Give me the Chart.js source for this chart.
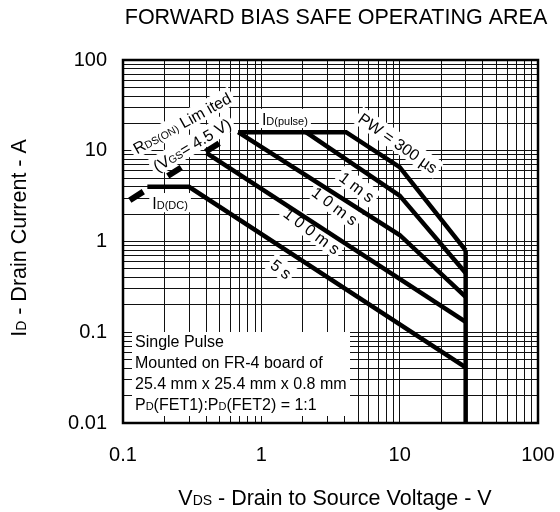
<!DOCTYPE html>
<html><head><meta charset="utf-8">
<script src="https://cdn.jsdelivr.net/npm/chart.js@4/dist/chart.umd.min.js"></script>
<style>html,body{margin:0;padding:0;background:#fff}</style>
</head><body>
<canvas id="c" width="560" height="512"></canvas>
<script>
// ---- data ----
const xGridValues = [0.1,0.2,0.3,0.4,0.5,0.6,0.7,0.8,0.9,1,2,3,4,5,6,7,8,9,10,20,30,40,50,60,70,80,90,100];
const yGridValues = [0.01,0.02,0.03,0.04,0.05,0.06,0.07,0.08,0.09,0.1,0.2,0.3,0.4,0.5,0.6,0.7,0.8,0.9,1,2,3,4,5,6,7,8,9,10,20,30,40,50,60,70,80,90,100];
const xTickLabelValues = [0.1, 1, 10, 100];
const xTickLabels = ['0.1','1','10','100'];
const yTickLabelValues = [0.01, 0.1, 1, 10, 100];
const yTickLabels = ['0.01','0.1','1','10','100'];

const pw300usV = [0.68, 4.1, 10, 30];
const pw300usA = [16, 16, 6.6, 0.8];
const pw1msV = [2.1, 10, 30];
const pw1msA = [16, 3.2, 0.45];
const pw10msV = [0.68, 10, 30];
const pw10msA = [16, 1.18, 0.245];
const pw100msV = [0.4, 30];
const pw100msA = [9.5, 0.13];
const dc5sV = [0.15, 0.3, 30];
const dc5sA = [4, 4, 0.041];
const vdsLimitV = [30, 30];
const vdsLimitA = [0.8, 0.01];
const rdsLimitV = [0.112, 0.5];
const rdsLimitA = [2.85, 12.2];

const FONT = '"Liberation Sans", Arial, Helvetica, sans-serif';
const zip = (xs, ys) => xs.map((x, i) => ({x, y: ys[i]}));
const solid = (xs, ys) => ({data: zip(xs, ys), showLine: true, borderColor: '#000', borderWidth: 4.5, pointRadius: 0, borderJoinStyle: 'miter', fill: false});

// curve labels in data coordinates
const curveLabels = [
  {segs: [['PW = 300 µs', 16]], x: 9.73, y: 12.2, angle: 35},
  {segs: [['1 m s', 16]], x: 4.92, y: 3.99, angle: 37},
  {segs: [['1 0 m s', 16]], x: 3.41, y: 2.46, angle: 37},
  {segs: [['1 0 0 m s', 16]], x: 2.32, y: 1.31, angle: 37},
  {segs: [['5 s', 16]], x: 1.39, y: 0.498, angle: 37},
  {segs: [['R', 16], ['DS(ON)', 10.5], [' Lim ited', 16]], x: 0.267, y: 20.2, angle: -29},
  {segs: [['(V', 16], ['GS', 10.5], ['= 4.5 V)', 16]], x: 0.315, y: 11.6, angle: -31},
  {segs: [['I', 16], ['D(pulse)', 11]], x: 1.48, y: 22.5, angle: 0},
  {segs: [['I', 16], ['D(DC)', 11]], x: 0.219, y: 2.66, angle: 0}
];
const noteLines = [
  [['Single Pulse', 16]],
  [['Mounted on FR-4 board of', 16]],
  [['25.4 mm x 25.4 mm x 0.8 mm', 16]],
  [['P', 16], ['D', 11], ['(FET1):P', 16], ['D', 11], ['(FET2) = 1:1', 16]]
];

function segWidth(ctx, segs) {
  let w = 0;
  segs.forEach(([t, s]) => { ctx.font = s + 'px ' + FONT; w += ctx.measureText(t).width; });
  return w;
}
function drawSegs(ctx, segs, x0, base) {
  let cx = x0;
  segs.forEach(([t, s]) => { ctx.font = s + 'px ' + FONT; ctx.fillText(t, cx, base); cx += ctx.measureText(t).width; });
}
function drawLabel(ctx, segs, x, y, angle, bg, pass) {
  ctx.save();
  ctx.translate(x, y);
  ctx.rotate(angle * Math.PI / 180);
  const w = segWidth(ctx, segs);
  const S = segs[0][1];
  if (bg && pass === 'bg') {
    ctx.fillStyle = '#fff';
    ctx.fillRect(-w / 2 - 3, -S * 0.62, w + 6, S * 1.2);
  }
  if (pass === 'fg') {
    ctx.fillStyle = '#000';
    ctx.textBaseline = 'alphabetic';
    ctx.textAlign = 'left';
    drawSegs(ctx, segs, -w / 2, S * 0.36);
  }
  ctx.restore();
}

const overlay = {
  id: 'overlay',
  beforeDatasetsDraw(chart) {
    const ctx = chart.ctx, a = chart.chartArea, xs = chart.scales.x, ys = chart.scales.y;
    ctx.save();
    ctx.fillStyle = '#fff';
    ctx.fillRect(a.left + 9, a.top + 272, 218, 84);
    ctx.restore();
    curveLabels.forEach(l => drawLabel(ctx, l.segs, xs.getPixelForValue(l.x), ys.getPixelForValue(l.y), l.angle, true, 'bg'));
  },
  afterDatasetsDraw(chart) {
    const ctx = chart.ctx, a = chart.chartArea, xs = chart.scales.x, ys = chart.scales.y;
    curveLabels.forEach(l => drawLabel(ctx, l.segs, xs.getPixelForValue(l.x), ys.getPixelForValue(l.y), l.angle, true, 'fg'));
    ctx.save();
    ctx.fillStyle = '#000';
    ctx.textBaseline = 'alphabetic';
    noteLines.forEach((segs, i) => drawSegs(ctx, segs, a.left + 12, a.top + 287 + i * 21));
    ctx.strokeStyle = '#000';
    ctx.lineWidth = 2.5;
    ctx.strokeRect(a.left, a.top, a.right - a.left, a.bottom - a.top);
    ctx.textAlign = 'center';
    ctx.textBaseline = 'middle';
    ctx.font = '21.5px ' + FONT;
    ctx.fillText('FORWARD BIAS SAFE OPERATING AREA', 336, 18);
    const xt = [['V', 21.5], ['DS', 14], [' - Drain to Source Voltage - V', 21.5]];
    const xw = segWidth(ctx, xt);
    ctx.textAlign = 'left';
    ctx.textBaseline = 'alphabetic';
    drawSegs(ctx, xt, 335 - xw / 2, 505);
    const yt = [['I', 21.5], ['D', 14], [' - Drain Current - A', 21.5]];
    const yw = segWidth(ctx, yt);
    ctx.translate(18, 238);
    ctx.rotate(-Math.PI / 2);
    drawSegs(ctx, yt, -yw / 2, 7.5);
    ctx.restore();
  }
};

new Chart(document.getElementById('c'), {
  type: 'scatter',
  data: {
    datasets: [
      solid(pw300usV, pw300usA),
      solid(pw1msV, pw1msA),
      solid(pw10msV, pw10msA),
      solid(pw100msV, pw100msA),
      solid(dc5sV, dc5sA),
      solid(vdsLimitV, vdsLimitA),
      {data: zip(rdsLimitV, rdsLimitA), showLine: true, borderColor: '#000', borderWidth: 6, borderDash: [16, 29], borderCapStyle: 'butt', pointRadius: 0}
    ]
  },
  options: {
    responsive: false,
    animation: false,
    devicePixelRatio: 1,
    layout: {padding: {left: 0, right: 22, top: 60, bottom: 0}},
    plugins: {legend: {display: false}, tooltip: {enabled: false}, title: {display: false}},
    scales: {
      x: {
        type: 'logarithmic', min: 0.1, max: 100,
        afterBuildTicks: s => { s.ticks = xGridValues.map(v => ({value: v})); },
        afterFit: s => { s.height = 89; s.paddingLeft = 0; s.paddingRight = 0; },
        border: {display: false},
        grid: {color: '#111', lineWidth: 1, drawTicks: false},
        ticks: {
          autoSkip: false, maxRotation: 0, padding: 20, color: '#000',
          font: {family: FONT, size: 20},
          callback: v => { const i = xTickLabelValues.findIndex(t => Math.abs(t - v) < 1e-9); return i >= 0 ? xTickLabels[i] : ''; }
        }
      },
      y: {
        type: 'logarithmic', min: 0.01, max: 100,
        afterBuildTicks: s => { s.ticks = yGridValues.map(v => ({value: v})); },
        afterFit: s => { s.width = 123; s.paddingTop = 0; s.paddingBottom = 0; },
        border: {display: false},
        grid: {color: '#111', lineWidth: 1, drawTicks: false},
        ticks: {
          autoSkip: false, padding: 16, color: '#000',
          font: {family: FONT, size: 20},
          callback: v => { const i = yTickLabelValues.findIndex(t => Math.abs(t - v) < 1e-12); return i >= 0 ? yTickLabels[i] : ''; }
        }
      }
    }
  },
  plugins: [overlay]
});
</script>
</body></html>
